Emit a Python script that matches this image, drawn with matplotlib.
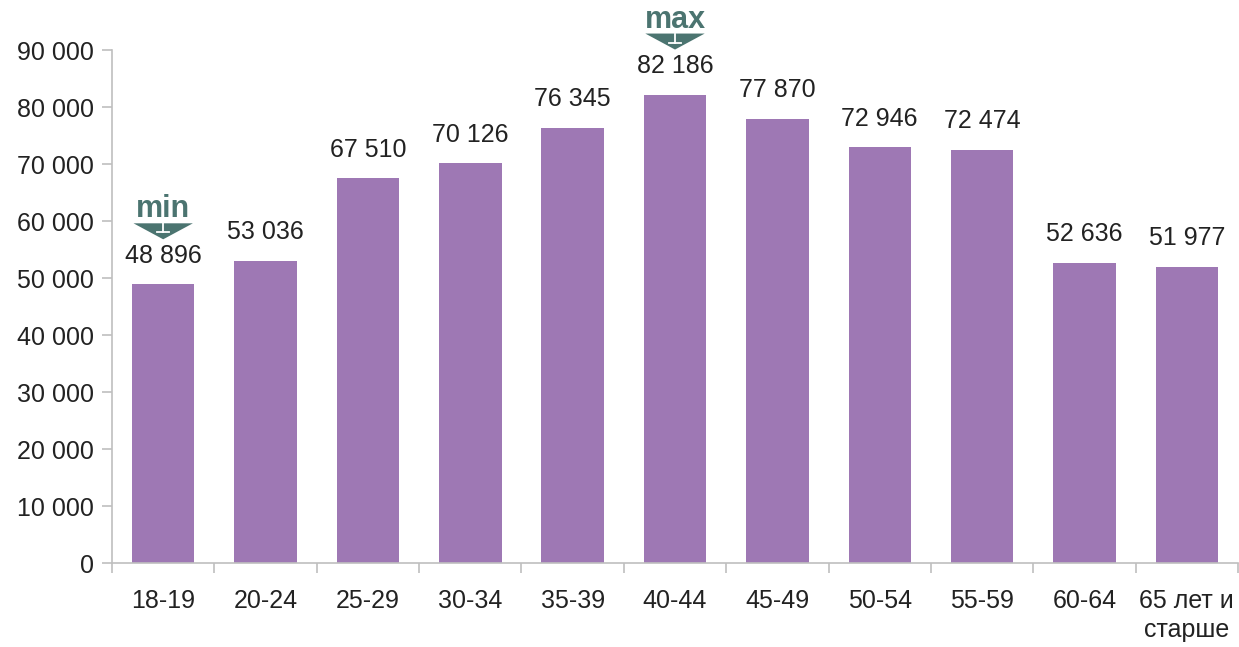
import matplotlib.pyplot as plt
from matplotlib.patches import Polygon

plt.rcParams['font.family'] = ['Liberation Sans', 'DejaVu Sans']

# age groups and counts
groups = ['18-19', '20-24', '25-29', '30-34', '35-39', '40-44',
          '45-49', '50-54', '55-59', '60-64', '65 лет и\nстарше']
values = [48896, 53036, 67510, 70126, 76345, 82186,
          77870, 72946, 72474, 52636, 51977]

bar_color = '#9e78b4'
mark_color = '#4b7470'
grey = '#bfbfbf'

fig = plt.figure(figsize=(12.39, 6.47), dpi=100)
ax = fig.add_axes([0.0904, 0.1298, 0.9088, 0.7929])

x = list(range(len(values)))
ax.bar(x, values, width=0.61, color=bar_color)

ax.set_ylim(0, 90000)
ax.set_xlim(-0.5, len(values) - 0.5)
yt = list(range(0, 90001, 10000))
ax.set_yticks(yt)
ax.set_yticklabels([f'{v:,}'.replace(',', ' ') for v in yt], fontsize=18, color='#222222')
ax.set_xticks(x)
ax.set_xticklabels(groups, fontsize=18, color='#222222', linespacing=1.25)
ax.set_xticks([i - 0.5 for i in range(len(values) + 1)], minor=True)
ax.tick_params(axis='x', which='major', length=0, pad=19)
ax.tick_params(axis='x', which='minor', length=7, color=grey, width=1.2)
ax.tick_params(axis='y', length=7, color=grey, width=1.2, pad=6)

for s in ['top', 'right']:
    ax.spines[s].set_visible(False)
for s in ['left', 'bottom']:
    ax.spines[s].set_color(grey)
    ax.spines[s].set_linewidth(1.2)

for i, v in enumerate(values):
    ax.annotate(f'{v:,}'.replace(',', ' '), (i, v), xytext=(0, 12),
                textcoords='offset points', ha='center', va='bottom',
                fontsize=18, color='#222222')

# pixels -> data units for the little arrow markers
py = 90000 / 513
def flag(i, word):
    v = values[i]
    top = v + 61 * py
    tip = v + 45 * py
    hw = 0.29
    ax.add_patch(Polygon([(i - hw, top), (i + hw, top), (i, tip)],
                         closed=True, color=mark_color, clip_on=False, lw=0))
    # white upside-down T inside the arrow head
    ax.plot([i, i], [top, top - 9 * py], color='white', lw=1.3, clip_on=False)
    ax.plot([i - 0.06, i + 0.06], [top - 9 * py, top - 9 * py], color='white', lw=1.3,
            clip_on=False)
    ax.text(i, top + 6 * py, word, ha='center', va='baseline', fontsize=22,
            fontweight='bold', color=mark_color)

flag(values.index(min(values)), 'min')
flag(values.index(max(values)), 'max')

fig.savefig('out.png', dpi=100)
